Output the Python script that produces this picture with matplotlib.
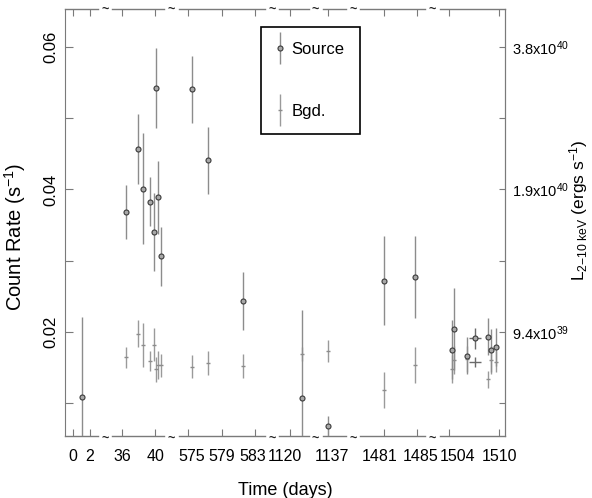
import matplotlib
matplotlib.use("Agg")
import matplotlib.pyplot as plt
import numpy as np
from matplotlib.container import ErrorbarContainer
from matplotlib.legend_handler import HandlerErrorbar
from matplotlib.transforms import ScaledTranslation

# source light curve: day, count rate, 1-sigma error
SRC_DAY = [1.0, 36.45, 37.9, 38.5, 39.3, 39.8, 40.1, 40.3, 40.7, 575.4, 577.4, 581.6,
           1121.4, 1137.0, 1481.0, 1484.7, 1504.3, 1504.6, 1506.1, 1508.6, 1509.0, 1509.6]
SRC_RATE = [0.0108, 0.0368, 0.0457, 0.0401, 0.0383, 0.0340, 0.0543, 0.0389, 0.0306, 0.0541,
            0.0441, 0.0243, 0.0107, 0.0067, 0.0272, 0.0277, 0.0175, 0.0204, 0.0166, 0.0193,
            0.0174, 0.0179]
SRC_ERR = [0.0113, 0.0038, 0.0049, 0.0078, 0.0034, 0.0055, 0.0056, 0.0051, 0.0041, 0.0047,
           0.0047, 0.0041, 0.0124, 0.0014, 0.0063, 0.0058, 0.0042, 0.0058, 0.0026, 0.0026,
           0.0030, 0.0027]

# background
BGD_DAY = [36.45, 37.9, 38.5, 39.3, 39.8, 40.1, 40.3, 40.7, 575.4, 577.4, 581.6, 1121.4,
           1137.0, 1481.0, 1484.7, 1504.3, 1504.6, 1506.1, 1508.6, 1509.0, 1509.6]
BGD_RATE = [0.0164, 0.0197, 0.0181, 0.0159, 0.0182, 0.0147, 0.0153, 0.0153, 0.0151, 0.0156,
            0.0152, 0.0169, 0.0173, 0.0118, 0.0153, 0.0148, 0.0160, 0.0162, 0.0133, 0.0160,
            0.0158]
BGD_ERR = [0.0015, 0.0019, 0.0031, 0.0014, 0.0023, 0.0018, 0.0020, 0.0016, 0.0016, 0.0017,
           0.0017, 0.0010, 0.0015, 0.0025, 0.0025, 0.0020, 0.0020, 0.0018, 0.0012, 0.0020,
           0.0015]

# long exposure with time bin shown as x error
LONG_DAY = [1507.1]
LONG_SRC = [0.0191]
LONG_SRC_ERR = [0.0015]
LONG_BGD = [0.0157]
LONG_BGD_ERR = [0.0007]
LONG_HALFBIN = [0.7]

X_TICKS = [0, 2, 36, 40, 575, 579, 583, 1120, 1137, 1481, 1485, 1504, 1510]
LUM_TICKS = [0.02, 0.04, 0.06]
LUM_LABELS = [r"9.4x10$^{39}$", r"1.9x10$^{40}$", r"3.8x10$^{40}$"]

# visible pieces of the broken time axis (days)
SEGMENTS = [(-1.0, 3.0), (34.8, 41.1), (573.8, 584.2), (1118.6, 1122.2),
            (1136.4, 1139.2), (1478.1, 1486.0), (1502.8, 1510.7)]
GAP = 1.7

# hand nudges of crowded tick labels (points), as in the original figure
LABEL_NUDGE = {575: 2.5, 583: -1.5, 1120: -4, 1137: 3, 1481: -3, 1485: 2.5, 1504: 6}


def _breakpoints():
    xp, fp = [], []
    pos = 0.0
    for d0, d1 in SEGMENTS:
        xp += [d0, d1]
        fp += [pos, pos + (d1 - d0)]
        pos += (d1 - d0) + GAP
    xp = [xp[0] - 1e4] + xp + [xp[-1] + 1e4]
    fp = [fp[0] - 1e4] + fp + [fp[-1] + 1e4]
    return np.array(xp), np.array(fp)


XP, FP = _breakpoints()


def forward(x):
    return np.interp(x, XP, FP)


def inverse(p):
    return np.interp(p, FP, XP)


plt.rcParams["font.family"] = ["Liberation Sans", "DejaVu Sans"]
plt.rcParams["mathtext.fontset"] = "custom"
plt.rcParams["mathtext.rm"] = "Liberation Sans"
plt.rcParams["mathtext.it"] = "Liberation Sans:italic"
plt.rcParams["mathtext.bf"] = "Liberation Sans:bold"

AX_GREY = "#7a7a7a"

fig = plt.figure(figsize=(5.92, 4.98), dpi=100)
ax = fig.add_axes([65 / 592, 1 - 436 / 498, 440 / 592, 426.5 / 498])
ax.set_xscale("function", functions=(forward, inverse))

src = ax.errorbar(SRC_DAY, SRC_RATE, yerr=SRC_ERR, fmt="o", ms=3.6, mfc="#a8a8a8",
                  mec="#3a3a3a", mew=0.8, ecolor="#8c8c8c", elinewidth=1.0, capsize=0,
                  label="Source", zorder=3)
bgd = ax.errorbar(BGD_DAY, BGD_RATE, yerr=BGD_ERR, fmt="_", ms=3, mec="#8c8c8c",
                  ecolor="#9a9a9a", elinewidth=1.0, capsize=0, label="Bgd.", zorder=2)
ax.errorbar(LONG_DAY, LONG_SRC, yerr=LONG_SRC_ERR, xerr=LONG_HALFBIN, fmt="o", ms=3.6,
            mfc="#a8a8a8", mec="#3a3a3a", mew=0.8, ecolor="#6a6a6a", elinewidth=1.0,
            capsize=0, zorder=3)
ax.errorbar(LONG_DAY, LONG_BGD, yerr=LONG_BGD_ERR, xerr=LONG_HALFBIN, fmt="none",
            ecolor="#6a6a6a", elinewidth=1.0, capsize=0, zorder=2)

ax.set_xlim(SEGMENTS[0][0], SEGMENTS[-1][1])
ax.set_ylim(0.00535, 0.0653)

# broken axis: draw only the visible pieces and put a tilde in each gap
for s in ("top", "bottom"):
    ax.spines[s].set_visible(False)
ax.spines["left"].set_color(AX_GREY)
ax.spines["right"].set_color(AX_GREY)
xt = ax.get_xaxis_transform()
for d0, d1 in SEGMENTS:
    for yy in (0, 1):
        ax.plot([d0, d1], [yy, yy], transform=xt, color=AX_GREY, lw=1.0, clip_on=False)
for (a0, a1), (b0, b1) in zip(SEGMENTS[:-1], SEGMENTS[1:]):
    mid = inverse((forward(a1) + forward(b0)) / 2)
    ax.text(mid, -0.006, "~", transform=xt, ha="center", va="center", fontsize=9,
            fontweight="bold", color="#222222")
    ax.text(mid, 1.0, "~", transform=xt, ha="center", va="center", fontsize=9,
            fontweight="bold", color="#222222")

ax.set_xticks(X_TICKS)
ax.set_xticklabels([str(t) for t in X_TICKS])
ax.xaxis.set_minor_locator(plt.NullLocator())
ax.tick_params(axis="x", which="major", direction="in", length=5, width=0.8,
               color=AX_GREY, top=True, labelsize=11.5, pad=9)
for tick, day in zip(ax.xaxis.get_major_ticks(), X_TICKS):
    dx = LABEL_NUDGE.get(day, 0) / 72
    lab = tick.label1
    lab.set_transform(lab.get_transform() + ScaledTranslation(dx, 0, fig.dpi_scale_trans))

ax.set_yticks(LUM_TICKS)
ax.set_yticklabels(["0.02", "0.04", "0.06"], rotation=90, va="center")
ax.set_yticks([0.01, 0.03, 0.05], minor=True)
ax.tick_params(axis="y", which="both", direction="in", length=6, width=0.8,
               color=AX_GREY, right=False, labelsize=12, pad=5)

ax.set_xlabel("Time (days)", fontsize=13, labelpad=13)
ax.set_ylabel(r"Count Rate (s$^{\mathregular{-1}}$)", fontsize=14.5)
ax.yaxis.set_label_coords(-0.083, 0.467)

ax2 = ax.twinx()
ax2.set_ylim(ax.get_ylim())
for s in ("top", "bottom", "left"):
    ax2.spines[s].set_visible(False)
ax2.spines["right"].set_color(AX_GREY)
ax2.set_yticks(LUM_TICKS)
ax2.set_yticklabels(LUM_LABELS)
ax2.set_yticks([0.01, 0.03, 0.05], minor=True)
ax2.tick_params(axis="y", which="both", direction="in", length=4, width=0.8,
                color=AX_GREY, labelsize=10.5, pad=5)
ax2.set_ylabel(r"L$_{\mathregular{2{-}10\ keV}}$ (ergs s$^{\mathregular{-1}}$)",
               fontsize=12.5)
ax2.yaxis.set_label_coords(1.141, 0.53)

leg = ax.legend(handles=[src, bgd], loc="upper left", bbox_to_anchor=(0.445, 0.959),
                fontsize=12, frameon=True, fancybox=False,
                edgecolor="black", framealpha=1, handlelength=0.5, handletextpad=0.45,
                borderpad=0.9, labelspacing=2.8, borderaxespad=0,
                handler_map={ErrorbarContainer: HandlerErrorbar(yerr_size=0.95)})
leg.get_frame().set_linewidth(1.2)
for line in leg.get_lines():
    line.set_markersize(2)

fig.savefig("out.png", dpi=100)
